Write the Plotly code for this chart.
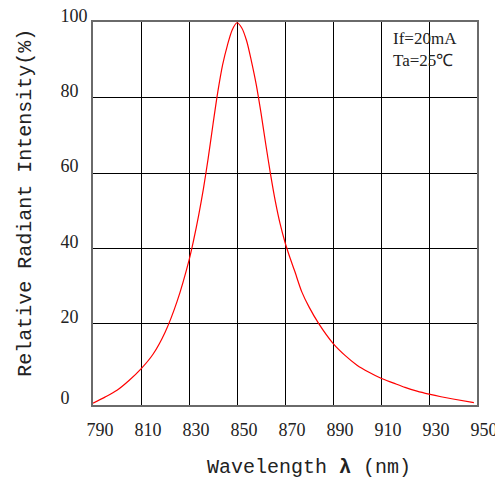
import plotly.graph_objects as go

# Spectrum (wavelength nm, relative intensity %)
wavelength = [790, 795, 800, 805, 810, 815, 820, 825, 830, 832, 834, 836, 838, 840, 842,
              844, 846, 848, 850, 852, 854, 856, 858, 860, 862, 864, 866, 868, 870, 872, 874,
              877, 880, 884, 890, 895, 900, 905, 910, 915, 920, 925, 930, 935, 940, 948.7]
intensity = [-1.2, 0.4, 2.2, 4.8, 7.9, 11.8, 17.6, 25.8, 36.8, 42.4, 48.7, 55.8, 64.0, 73.0, 81.6,
             88.8, 94.0, 98.1, 100, 98.6, 95.2, 89.8, 83.6, 76.0, 67.6, 59.6, 52.4, 46.4, 41.6, 37.6, 34.0,
             28.4, 24.4, 20, 14.7, 11.5, 8.9, 7.0, 5.4, 4.2, 3.0, 2.0, 1.2, 0.5, -0.1, -1.05]

x_ticks = [790, 810, 830, 850, 870, 890, 910, 930, 950]
x_labels = ["790", "810", "830", "850", "870", "890", "910", "930", "950"]
y_ticks = [-1.5, 20, 40, 60, 80, 100]
y_labels = ["0", "20", "40", "60", "80", "100"]

NB = "\u00a0"
pad = {1: NB * 4, 2: NB * 2, 3: ""}
y_text = [t + pad[len(t)] for t in y_labels]

serif = "Liberation Serif, Times New Roman, serif"
mono = "Liberation Mono, Courier New, monospace"

fig = go.Figure()
fig.add_trace(go.Scatter(x=wavelength, y=intensity, mode="lines",
                         line=dict(color="#ff0000", width=1.2, shape="spline", smoothing=0.8),
                         showlegend=False, hoverinfo="skip"))

# page body has an 8px default margin, so the figure is 8px smaller than the window
fig.update_layout(
    width=495, height=476,
    margin=dict(l=85, r=26, t=14, b=79),
    paper_bgcolor="white", plot_bgcolor="white",
    xaxis=dict(range=[790, 950], tickvals=x_ticks, ticktext=x_labels,
               showgrid=True, gridcolor="black", gridwidth=1, automargin=False,
               showline=True, linecolor="#6a6a6a", linewidth=2, mirror=True,
               ticks="", zeroline=False, ticklabelshift=7, ticklabelstandoff=7,
               ticklabeloverflow="allow",
               tickfont=dict(family=serif, size=18, color="#222222")),
    yaxis=dict(range=[-1.7, 100.2], tickvals=y_ticks, ticktext=y_text,
               showgrid=True, gridcolor="black", gridwidth=1, automargin=False,
               showline=True, linecolor="#6a6a6a", linewidth=2, mirror=True,
               ticks="", zeroline=False, ticklabelshift=-7,
               ticklabeloverflow="allow",
               tickfont=dict(family=serif, size=18, color="#222222")),
    annotations=[
        dict(text="If=20mA<br>Ta=25℃", xref="paper", yref="paper", x=0.776, y=0.928,
             xanchor="left", yanchor="middle", align="left", showarrow=False,
             font=dict(family=serif, size=17, color="#222222")),
        dict(text="Relative Radiant Intensity(%)", xref="paper", yref="paper",
             x=-0.176, y=0.529, xanchor="center", yanchor="middle", textangle=-90,
             showarrow=False, font=dict(family=mono, size=20, color="#222222")),
        dict(text="Wavelength <b>λ</b> (nm)", xref="paper", yref="paper",
             x=0.563, y=-0.162, xanchor="center", yanchor="middle",
             showarrow=False, font=dict(family=mono, size=20, color="#222222")),
    ],
)

fig.write_html("out.html")
